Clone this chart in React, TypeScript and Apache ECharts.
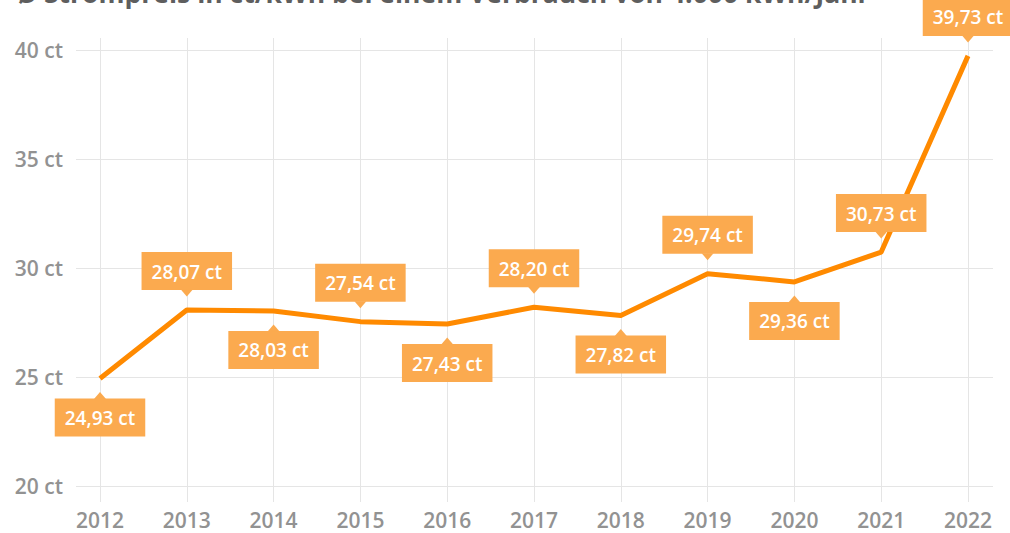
import React, { useEffect, useRef } from "react";
import * as echarts from "echarts";

const years = ["2012", "2013", "2014", "2015", "2016", "2017", "2018", "2019", "2020", "2021", "2022"];
const prices = [24.93, 28.07, 28.03, 27.54, 27.43, 28.2, 27.82, 29.74, 29.36, 30.73, 39.73];
const labelPositions = ["bottom", "top", "bottom", "top", "bottom", "top", "bottom", "top", "bottom", "top", "top"];
const titleText = "Ø Strompreis in ct/kWh bei einem Verbrauch von 4.000 kWh/Jahr";

const GRID = "#e5e5e5";
const LINE = "#ff8a00";
const LABEL_BG = "#fbaa4f";
const AXIS_TEXT = "#929292";
const FONT = "'Open Sans', 'Noto Sans', sans-serif";

const fmt = (v: number) => v.toFixed(2).replace(".", ",") + " ct";

export default function App() {
  const ref = useRef<HTMLDivElement>(null);
  useEffect(() => {
    if (!ref.current) return;
    const chart = echarts.init(ref.current, undefined, { renderer: "svg" });
    const lineData = prices.map((v, i) => ({
      value: v,
      label: { position: labelPositions[i] },
    }));
    const pointerData = prices.map((v, i) => ({
      value: v,
      symbolRotate: labelPositions[i] === "top" ? 180 : 0,
      symbolOffset: [0, labelPositions[i] === "top" ? -17 : 17],
    }));
    chart.setOption({
      animation: false,
      textStyle: { fontFamily: FONT },
      graphic: [
        {
          type: "text",
          left: 16,
          top: -21,
          style: {
            text: titleText,
            fontSize: 26.5,
            fontWeight: "bold",
            fontFamily: FONT,
            fill: "#5e5e5e",
          },
        },
      ],
      grid: { left: 100, right: 42, top: 50, bottom: 47, containLabel: false },
      xAxis: [
        {
          type: "category",
          data: years,
          boundaryGap: false,
          position: "bottom",
          axisLine: { show: false },
          axisTick: { show: true, length: 16, interval: 0, lineStyle: { color: GRID, width: 1 } },
          axisLabel: { interval: 0, margin: 23, color: AXIS_TEXT, fontSize: 21, fontWeight: 600, fontFamily: FONT },
          splitLine: { show: true, interval: 0, lineStyle: { color: GRID, width: 1 } },
        },
        {
          type: "category",
          data: years,
          boundaryGap: false,
          position: "top",
          axisLine: { show: false },
          axisTick: { show: true, length: 12, interval: 0, lineStyle: { color: GRID, width: 1 } },
          axisLabel: { show: false },
          splitLine: { show: false },
        },
      ],
      yAxis: [
        {
          type: "value",
          min: 20,
          max: 40,
          interval: 5,
          position: "left",
          axisLine: { show: false },
          axisTick: { show: true, length: 24, lineStyle: { color: GRID, width: 1 } },
          axisLabel: {
            formatter: "{value} ct",
            margin: 37,
            color: AXIS_TEXT,
            fontSize: 21,
            fontWeight: 600,
            fontFamily: FONT,
          },
          splitLine: { show: true, lineStyle: { color: GRID, width: 1 } },
        },
        {
          type: "value",
          min: 20,
          max: 40,
          interval: 5,
          position: "right",
          axisLine: { show: false },
          axisTick: { show: true, length: 25, lineStyle: { color: GRID, width: 1 } },
          axisLabel: { show: false },
          splitLine: { show: false },
        },
      ],
      series: [
        {
          type: "line",
          data: lineData,
          xAxisIndex: 0,
          yAxisIndex: 0,
          symbol: "circle",
          symbolSize: 2,
          showSymbol: true,
          itemStyle: { color: "rgba(0,0,0,0)", borderWidth: 0 },
          lineStyle: { color: LINE, width: 5, join: "round" },
          z: 2,
          label: {
            show: true,
            distance: 19,
            formatter: (p: any) => fmt(p.value),
            color: "#ffffff",
            backgroundColor: LABEL_BG,
            fontSize: 19,
            fontWeight: 600,
            fontFamily: FONT,
            padding: [7, 10, 6, 10],
            lineHeight: 25,
          },
        },
        {
          type: "scatter",
          data: pointerData,
          xAxisIndex: 0,
          yAxisIndex: 0,
          symbol: "triangle",
          symbolSize: [12, 7],
          itemStyle: { color: LABEL_BG, opacity: 1 },
          z: 3,
          silent: true,
        },
      ],
    });
    return () => chart.dispose();
  }, []);
  return (
    <div
      ref={ref}
      style={{ position: "fixed", left: 0, top: 0, width: 1010, height: 533, background: "#fff" }}
    />
  );
}
